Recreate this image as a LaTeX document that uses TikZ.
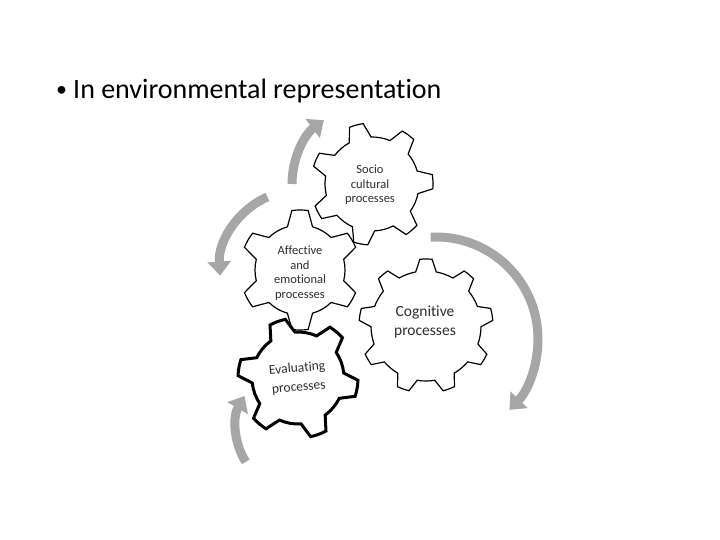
\documentclass[tikz,border=0pt]{standalone}
\usepackage{fontspec}
\setmainfont{Carlito}[Ligatures=NoCommon]
\usetikzlibrary{arrows.meta}
\definecolor{arrowgrey}{RGB}{166,166,166}
\definecolor{textgrey}{RGB}{45,45,45}

% style, centre, teeth, inner radius, outer radius, angle of first tooth
\newcommand{\drawgear}[6]{%
  \draw[#1, shift={#2}] ({#6-0.27*360/#3}:#4)
    \foreach \i [evaluate=\i as \tang using #6+(\i-1)*360/#3] in {1,...,#3}{
      -- ({\tang-0.27*360/#3}:#4) -- ({\tang-0.13*360/#3}:#5)
      arc[start angle={\tang-0.13*360/#3}, end angle={\tang+0.13*360/#3}, radius=#5pt]
      -- ({\tang+0.27*360/#3}:#4)
      arc[start angle={\tang+0.27*360/#3}, end angle={\tang+0.73*360/#3}, radius=#4pt]
    } -- cycle;}

\tikzset{
  gear/.style={draw=black, line width=1.2pt, fill=white, line join=miter},
  turnarrow/.style={draw=arrowgrey, line width=9pt,
    -{Triangle[width=23pt, length=14pt]}},
  gearlabel/.style={align=center, inner sep=0pt, text=textgrey},
}

\begin{document}
\begin{tikzpicture}[x=1pt, y=1pt]
\useasboundingbox (0,0) rectangle (720,540);
% --- heading ---
\node[font=\fontsize{22}{26}\selectfont, anchor=base, inner sep=0pt] (dot) at (61.5,443) {\textbullet};
\node[font=\fontsize{28}{34}\selectfont, anchor=base west, inner sep=0pt] (heading) at (73,441)
  {In environmental representation};
% --- gear centres ---
\coordinate (socio) at (372,356);
\coordinate (affect) at (300,270);
\coordinate (cogn) at (426,214);
\coordinate (evalg) at (298,162);
\coordinate (lowturn) at (300,112);
\coordinate (bigturn) at (436,201);
% --- grey turning arrows ---
\draw[turnarrow] ([shift={(180:80)}]socio) arc[start angle=180, end angle=127, radius=80pt];
\draw[turnarrow] ([shift={(114:80)}]affect) arc[start angle=114, end angle=184, radius=80pt];
\draw[turnarrow] ([shift={(93:102)}]bigturn) arc[start angle=93, end angle=-44, radius=102pt];
\draw[turnarrow] ([shift={(212:64)}]lowturn) arc[start angle=212, end angle=150, radius=64pt];
% --- gears ---
\drawgear{gear}{(socio)}{7}{47}{61}{105}
\drawgear{gear}{(affect)}{6}{45}{60}{90}
\drawgear{gear}{(cogn)}{9}{55}{67}{90}
\drawgear{gear, line width=3pt}{(evalg)}{6}{46}{60}{110}
% --- labels ---
\node[gearlabel, font=\fontsize{12.5}{14.5}\selectfont] (sociotext) at (370,355)
  {Socio\\cultural\\processes};
\node[gearlabel, font=\fontsize{12.5}{14.5}\selectfont] (affecttext) at (300,267)
  {Affective\\and\\emotional\\processes};
\node[gearlabel, font=\fontsize{15.5}{19}\selectfont] (cogntext) at (425,218)
  {Cognitive\\processes};
\node[gearlabel, font=\fontsize{13.5}{19}\selectfont, rotate=5] (evaltext) at (298,162)
  {Evaluating\\processes};
\end{tikzpicture}
\end{document}
